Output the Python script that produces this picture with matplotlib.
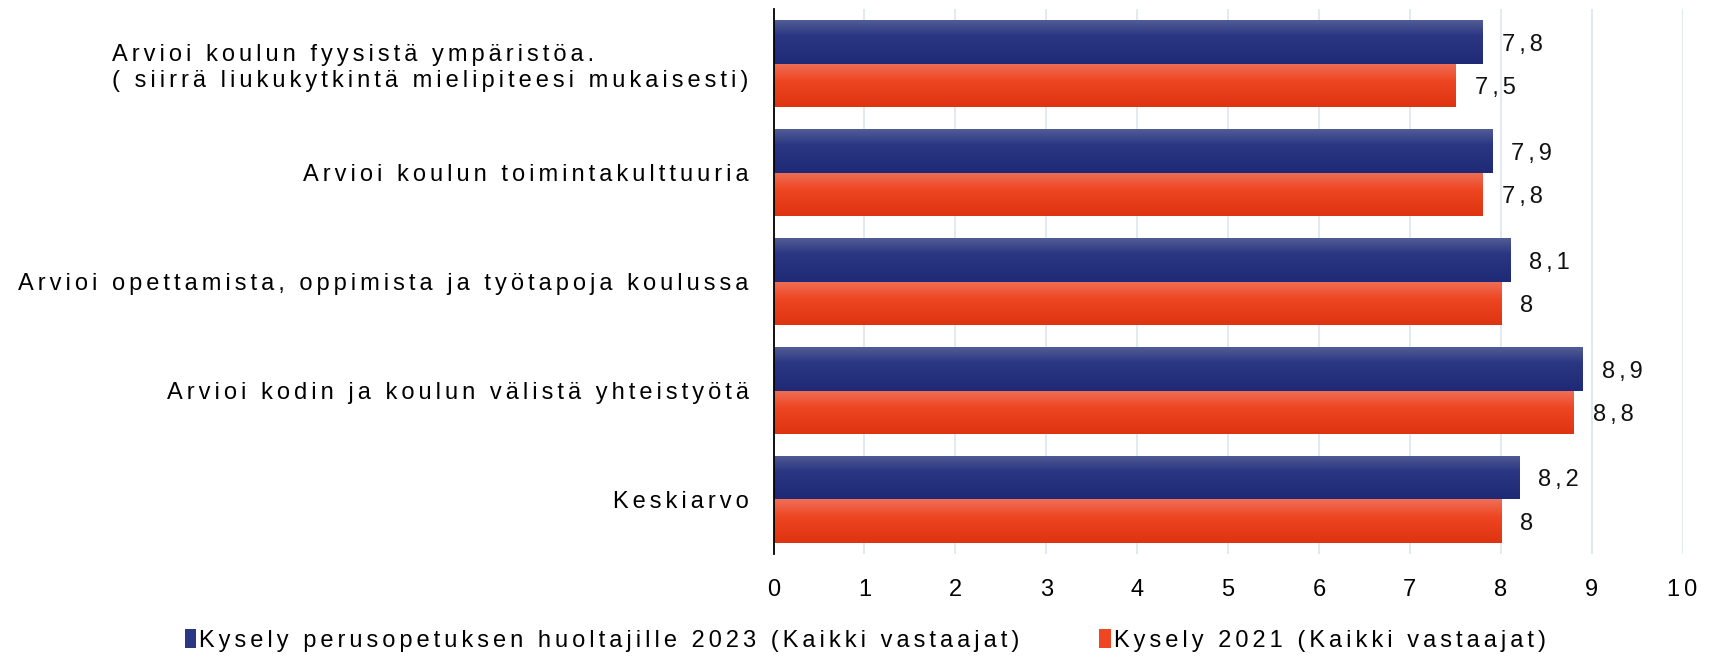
import numpy as np
import matplotlib
matplotlib.use("Agg")
import matplotlib.pyplot as plt
from matplotlib.colors import LinearSegmentedColormap
from matplotlib.patches import Patch

plt.rcParams['font.family'] = ['Liberation Sans', 'DejaVu Sans']

categories = [
    "Arvioi koulun fyysistä ympäristöa.\n( siirrä liukukytkintä mielipiteesi mukaisesti)",
    "Arvioi koulun toimintakulttuuria",
    "Arvioi opettamista, oppimista ja työtapoja koulussa",
    "Arvioi kodin ja koulun välistä yhteistyötä",
    "Keskiarvo",
]
series_2023 = [7.8, 7.9, 8.1, 8.9, 8.2]
series_2021 = [7.5, 7.8, 8.0, 8.8, 8.0]
series_names = ["Kysely perusopetuksen huoltajille 2023 (Kaikki vastaajat)",
                "Kysely 2021 (Kaikki vastaajat)"]
xticks = list(range(0, 11))

FS = 17
SP = "\u200a\u200a"


def spaced(s):
    # emulate the wide letter spacing of the original
    return "\n".join(SP.join(line) for line in s.split("\n"))


blue_cmap = LinearSegmentedColormap.from_list("b", [(0, "#525d96"), (0.35, "#2b3782"), (1, "#1e2a75")])
red_cmap = LinearSegmentedColormap.from_list("r", [(0, "#ef7058"), (0.4, "#ee4622"), (1, "#de3310")])


def fmt(v):
    s = f"{v:.1f}"
    if s.endswith(".0"):
        s = s[:-2]
    return s.replace(".", ",")


fig = plt.figure(figsize=(17.13, 6.61), dpi=100)
ax = fig.add_axes([0.4516, 0.162, 0.9822 - 0.4516, 0.986 - 0.162])

y = np.arange(len(categories))
h = 0.4
grad = np.linspace(0, 1, 256).reshape(-1, 1)
for vals, off, cmap, face in [(series_2023, -h / 2, blue_cmap, "#2b3782"),
                              (series_2021, h / 2, red_cmap, "#ee4622")]:
    bars = ax.barh(y + off, vals, height=h, color=face, zorder=2, linewidth=0)
    for b, v, yy in zip(bars, vals, y + off):
        im = ax.imshow(grad, extent=(0, v, yy + h / 2, yy - h / 2), origin='upper',
                       cmap=cmap, aspect='auto', zorder=3, interpolation='bilinear')
        im.set_clip_path(b)
        ax.annotate(spaced(fmt(v)), (v, yy), xytext=(14, -2), textcoords='offset points',
                    ha='left', va='center', fontsize=FS, color='#111111')

ax.set_xlim(0, 10)
ax.set_ylim(4.5, -0.5)
ax.set_xticks(xticks)
ax.set_xticklabels([spaced(str(t)) for t in xticks])
ax.set_yticks(y)
ax.set_yticklabels([spaced(c) for c in categories], multialignment='left')
ax.tick_params(axis='y', length=0, pad=18, labelsize=FS)
ax.tick_params(axis='x', length=0, pad=18, labelsize=FS)
ax.grid(axis='x', color='#dde6ef', linewidth=1.2, zorder=0)
ax.set_axisbelow(True)
for s in ['top', 'right', 'bottom']:
    ax.spines[s].set_visible(False)
ax.spines['left'].set_color('black')
ax.spines['left'].set_linewidth(1.3)
ax.spines['left'].set_zorder(5)

handles = [Patch(facecolor="#2b3782"), Patch(facecolor="#ee4622")]
fig.legend(handles, [spaced(n) for n in series_names], loc='center', bbox_to_anchor=(0.505, 0.031), ncol=2,
           frameon=False, fontsize=FS, handlelength=0.5, handleheight=0.85,
           handletextpad=0.1, columnspacing=3.4)

fig.savefig("out.png", dpi=100)
